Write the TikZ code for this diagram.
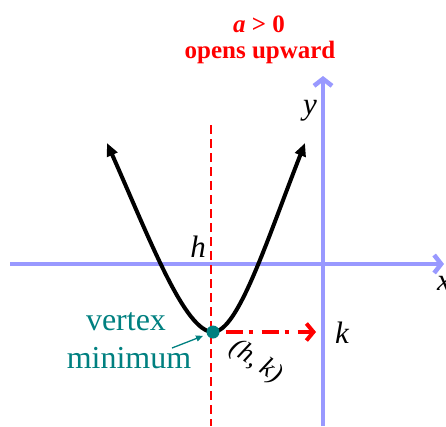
\documentclass[tikz,border=0pt]{standalone}
\usepackage{fontspec}
\setmainfont{Liberation Serif}
\usetikzlibrary{arrows.meta}
\definecolor{AxisBlue}{HTML}{9999FF}
\definecolor{VertexTeal}{HTML}{008080}
\definecolor{NoteRed}{HTML}{FF0000}

\begin{document}
\begin{tikzpicture}[x=1pt,y=-1pt,
  axis/.style={AxisBlue,line width=4.5pt,-{Straight Barb[length=7pt,width=18pt]}},
  curve/.style={line width=4pt,{Triangle[length=13pt,width=11pt]}-{Triangle[length=13pt,width=11pt]}},
  lbl/.style={font=\fontsize{31}{33}\selectfont\itshape},
  vtxtext/.style={VertexTeal,font=\fontsize{32}{34}\selectfont},
  note/.style={NoteRed,font=\fontsize{25}{28}\selectfont\bfseries}]
  \useasboundingbox (0,0) rectangle (446,426);
  % axes
  \coordinate (xl) at (10,264);
  \coordinate (xr) at (444,264);
  \coordinate (yb) at (323,426);
  \coordinate (yt) at (323,76);
  \draw[axis] (xl) -- (xr);
  \draw[axis] (yb) -- (yt);
  \node[lbl] (ylab) at (310,111) {y};
  \node[lbl] (xlab) at (444,283) {x};
  % axis of symmetry
  \draw[NoteRed,line width=1.2pt,dash pattern=on 9pt off 5pt] (211,125) -- (211,426);
  % parabola
  \coordinate (ltip) at (107,143);
  \coordinate (rtip) at (305,143);
  \coordinate (vpt) at (213,332);
  \draw[curve] (ltip) .. controls (150,240) and (185,332) .. (vpt)
    .. controls (238,332) and (267,240) .. (rtip);
  \node[circle,fill=VertexTeal,inner sep=0pt,minimum size=13pt] (vtx) at (vpt) {};
  % h and k
  \node[lbl] (hlab) at (198,247) {h};
  \coordinate (kpt) at (316,332);
  \draw[NoteRed,line width=4pt,dash pattern=on 17pt off 6pt on 4pt off 9pt,
    -{Straight Barb[length=7pt,width=17pt]},shorten <=6pt] (vtx.east) -- (kpt);
  \node[lbl] (klab) at (342,333) {k};
  \node[lbl,font=\fontsize{27}{29}\selectfont\itshape,rotate=-33] (hk) at (256,362) {(h, k)};
  % vertex labels
  \node[vtxtext] (vlab) at (126,322) {vertex};
  \node[vtxtext] (mlab) at (129,358) {minimum};
  \coordinate (tail) at (172,348);
  \draw[VertexTeal,line width=1.3pt,-{Triangle[length=7pt,width=6pt]},shorten >=4pt] (tail) -- (vtx);
  % condition
  \node[note] (cond) at (259,24) {\textit{a} > 0};
  \node[note] (opens) at (260,52) {opens upward};
\end{tikzpicture}
\end{document}
